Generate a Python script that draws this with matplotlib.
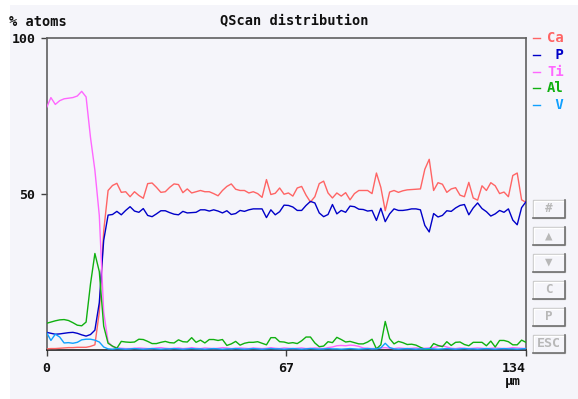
# QScan distribution - % atoms along a line scan

import numpy as np
import matplotlib.pyplot as plt
from matplotlib.patches import Rectangle
from matplotlib.lines import Line2D

# --- data ---
elements = ['Ca', ' P', 'Ti', 'Al', ' V']
colours = ['#ff6464', '#0000c8', '#ff66ff', '#10b010', '#10a0ff']

ca = [0.2, 0.3, 0.3, 0.4, 0.5, 0.6, 0.6, 0.7, 0.7, 0.7,
      1.0, 1.5, 12.0, 38.0, 51.0, 52.6, 53.3, 50.4, 50.6, 49.0,
      50.6, 49.4, 48.5, 53.2, 53.4, 52.0, 50.4, 50.6, 52.0, 53.1,
      52.9, 50.3, 51.5, 50.2, 50.6, 51.0, 50.6, 50.6, 50.0, 49.3,
      51.0, 52.3, 53.1, 51.4, 51.0, 51.0, 50.2, 50.6, 50.0, 48.8,
      54.5, 49.7, 50.1, 51.8, 49.8, 50.2, 49.2, 51.8, 52.3, 49.5,
      47.3, 49.0, 53.2, 54.0, 50.2, 48.6, 50.2, 49.2, 50.3, 48.0,
      50.0, 51.0, 51.0, 51.0, 50.0, 56.6, 52.0, 44.5, 50.5, 51.0,
      50.4, 50.9, 51.2, 51.3, 51.4, 51.5, 57.8, 61.0, 51.0, 53.5,
      53.0, 50.4, 51.5, 51.9, 49.5, 49.0, 53.6, 48.6, 47.9, 52.5,
      51.0, 53.5, 52.5, 50.0, 50.5, 49.0, 55.8, 56.6, 48.0, 47.2]

p = [5.5, 5.2, 4.9, 5.0, 5.2, 5.4, 5.5, 5.2, 4.7, 4.3,
     4.8, 6.2, 15.0, 35.0, 43.1, 43.3, 44.3, 43.2, 44.6, 45.8,
     44.4, 44.0, 45.2, 43.0, 42.6, 43.5, 44.5, 44.5, 43.9, 43.4,
     43.2, 44.3, 43.8, 43.9, 44.0, 44.8, 44.8, 44.4, 44.8, 44.4,
     43.8, 44.5, 43.3, 43.6, 44.6, 44.3, 44.8, 45.1, 45.1, 45.1,
     42.3, 44.8, 43.2, 44.2, 46.3, 46.2, 45.7, 44.6, 44.6, 46.2,
     47.5, 47.0, 43.8, 42.6, 43.3, 46.5, 43.5, 44.6, 44.0, 46.0,
     45.8, 45.0, 44.9, 44.4, 44.6, 41.4, 45.3, 41.0, 43.5, 45.1,
     44.6, 44.6, 44.8, 45.1, 45.1, 44.8, 39.8, 37.7, 43.6, 42.5,
     43.0, 44.5, 44.3, 45.4, 46.2, 46.5, 43.2, 45.4, 47.0, 45.2,
     44.2, 42.8, 43.5, 44.6, 44.0, 45.1, 41.5, 40.0, 45.5, 47.4]

ti = [77.5, 80.8, 78.6, 79.8, 80.4, 80.6, 80.8, 81.3, 82.8, 81.0,
      68.0, 57.5, 43.0, 12.0, 2.5, 0.9, 0.6, 0.4, 0.3, 0.3,
      0.4, 0.5, 0.4, 0.3, 0.3, 0.5, 0.6, 0.4, 0.3, 0.4,
      0.5, 0.3, 0.4, 0.6, 0.4, 0.3, 0.5, 0.4, 0.3, 0.4,
      0.6, 0.5, 0.3, 0.4, 0.5, 0.4, 0.3, 0.5, 0.4, 0.3,
      0.4, 0.6, 0.4, 0.3, 0.5, 0.4, 0.3, 0.4, 0.5, 0.3,
      0.4, 0.5, 0.4, 0.3, 0.6, 0.8, 1.2, 1.3, 1.2, 1.4,
      1.3, 1.0, 0.5, 0.4, 0.3, 0.4, 0.5, 0.6, 0.4, 0.3,
      0.5, 0.4, 0.3, 0.4, 0.5, 0.3, 0.4, 0.5, 0.6, 1.0,
      1.2, 0.8, 0.4, 0.3, 0.5, 0.4, 0.3, 0.4, 0.5, 0.4,
      0.3, 0.4, 0.5, 0.4, 0.3, 0.4, 0.6, 0.5, 0.4, 0.3]

al = [8.4, 8.8, 9.2, 9.5, 9.6, 9.3, 8.6, 7.8, 7.6, 8.8,
      21.0, 30.8, 25.0, 7.5, 2.0, 1.1, 0.4, 2.6, 2.4, 2.3,
      2.4, 3.3, 3.2, 2.6, 1.9, 1.9, 2.3, 2.6, 2.2, 2.1,
      3.1, 2.5, 2.4, 3.8, 2.3, 3.0, 2.1, 3.2, 3.2, 2.9,
      3.2, 1.3, 1.8, 2.6, 1.4, 2.0, 2.3, 2.3, 2.5, 2.0,
      1.5, 3.8, 3.8, 2.5, 2.4, 2.0, 2.2, 1.9, 2.8, 4.0,
      4.0, 2.1, 0.9, 1.1, 2.5, 2.2, 3.9, 3.2, 2.4, 2.6,
      2.2, 1.8, 1.8, 2.4, 3.3, 0.2, 1.5, 9.0, 3.5, 1.8,
      2.6, 2.2, 1.6, 1.7, 1.4, 0.7, 0.1, 0.0, 1.9, 1.3,
      0.9, 2.5, 1.3, 2.3, 2.4, 1.6, 1.2, 2.3, 2.3, 2.3,
      1.2, 2.7, 0.8, 2.9, 2.9, 2.5, 1.5, 1.5, 3.0, 2.3]

v = [5.5, 2.9, 4.9, 4.0, 2.1, 2.2, 2.0, 2.3, 3.1, 3.3,
     3.3, 3.0, 2.4, 0.8, 0.2, 0.1, 0.3, 0.2, 0.1, 0.2,
     0.3, 0.2, 0.1, 0.2, 0.3, 0.2, 0.1, 0.2, 0.2, 0.3,
     0.2, 0.1, 0.2, 0.3, 0.2, 0.2, 0.1, 0.2, 0.3, 0.2,
     0.1, 0.2, 0.2, 0.3, 0.2, 0.1, 0.2, 0.3, 0.2, 0.1,
     0.2, 0.3, 0.2, 0.2, 0.1, 0.2, 0.3, 0.2, 0.1, 0.2,
     0.3, 0.2, 0.1, 0.2, 0.3, 0.2, 0.2, 0.1, 0.2, 0.3,
     0.2, 0.1, 0.2, 0.3, 0.2, 0.2, 0.5, 2.0, 0.6, 0.2,
     0.1, 0.2, 0.3, 0.2, 0.1, 0.2, 0.2, 0.3, 0.2, 0.1,
     0.2, 0.3, 0.2, 0.1, 0.2, 0.3, 0.2, 0.2, 0.1, 0.2,
     0.3, 0.2, 0.1, 0.2, 0.3, 0.2, 0.2, 0.1, 0.2, 0.3]

series = [ca, p, ti, al, v]
# scan points are evenly spaced over the 134 um line
depth = np.linspace(0, 134, len(ca))

x_ticks = [0, 67, 134]
y_ticks = [50, 100]
buttons = ['#', '\u25b2', '\u25bc', 'C', 'P', 'ESC']

# --- figure ---
W, H = 578, 399
bg = '#f5f5fa'
mono = ['DejaVu Sans Mono', 'DejaVu Sans']
plt.rcParams['font.family'] = mono
plt.rcParams['font.weight'] = 'bold'

fig = plt.figure(figsize=(W / 100, H / 100), dpi=100, facecolor='white')
fig.patches.append(Rectangle((10 / W, 0), 1 - 10 / W, 1 - 5 / H,
                             transform=fig.transFigure, facecolor=bg,
                             edgecolor='none', zorder=-10))

def fx(px):
    return px / W

def fy(py):
    return 1 - py / H

left, right, top, bottom = 46.5, 526, 37.7, 349.5
ax = fig.add_axes([fx(left), fy(bottom), (right - left) / W, (bottom - top) / H])
ax.set_facecolor(bg)

# draw P first so Ca sits above it, as in the original
order = [1, 0, 3, 4, 2]
for i in order:
    ax.plot(depth, series[i], color=colours[i], lw=1.0, zorder=3 + i)

ax.set_xlim(0, 134)
ax.set_ylim(0, 100)
ax.set_xticks(x_ticks)
ax.set_yticks(y_ticks)
ax.set_xticklabels([str(t) for t in x_ticks])
ax.set_yticklabels([str(t) for t in y_ticks])
ax.tick_params(direction='out', length=4.5, width=1.0, color='#404040',
               labelsize=9.5, labelcolor='#101010')
ax.tick_params(axis='x', pad=4.5)
ax.tick_params(axis='y', pad=3.5)
xl = ax.get_xticklabels()
xl[-1].set_horizontalalignment('right')

for side in ['left', 'top', 'right']:
    ax.spines[side].set_color('#606060')
    ax.spines[side].set_linewidth(1.2)
ax.spines['bottom'].set_color('#202020')
ax.spines['bottom'].set_linewidth(1.2)

# titles / labels
fig.text(fx(294), fy(20), 'QScan distribution', ha='center', va='center',
         fontsize=9.8, color='#101010')
fig.text(fx(9), fy(22), '% atoms', ha='left', va='center',
         fontsize=9.8, color='#101010')
fig.text(fx(513), fy(381), '\u03bcm', ha='center', va='center',
         fontsize=9.5, color='#101010')

# legend on the right
for i, name in enumerate(elements):
    yy = fy(38 + i * 16.8)
    fig.lines.append(Line2D([fx(533), fx(540)], [yy, yy], color=colours[i],
                            lw=1.0, transform=fig.transFigure))
    fig.text(fx(547), yy, name, ha='left', va='center', fontsize=10,
             color=colours[i])

# button column (flat boxes with a light top/left and dark bottom/right edge)
for i, lab in enumerate(buttons):
    y0 = 199.5 + i * 27
    fig.patches.append(Rectangle((fx(532.5), fy(y0 + 18)), 32 / W, 18 / H,
                                 transform=fig.transFigure, facecolor=bg,
                                 edgecolor='#c8c8c8', lw=1.0))
    fig.lines.append(Line2D([fx(533.5), fx(533.5), fx(564)],
                            [fy(y0 + 17), fy(y0 + 1), fy(y0 + 1)],
                            color='white', lw=1.0, transform=fig.transFigure))
    fig.lines.append(Line2D([fx(533), fx(565), fx(565)],
                            [fy(y0 + 18), fy(y0 + 18), fy(y0)],
                            color='#707070', lw=1.2, transform=fig.transFigure))
    fig.text(fx(548.5), fy(y0 + 9), lab, ha='center', va='center',
             fontsize=9 if len(lab) == 1 else 9.5, color='#b8b8b8')

plt.savefig('out.png', dpi=100, facecolor='white')
